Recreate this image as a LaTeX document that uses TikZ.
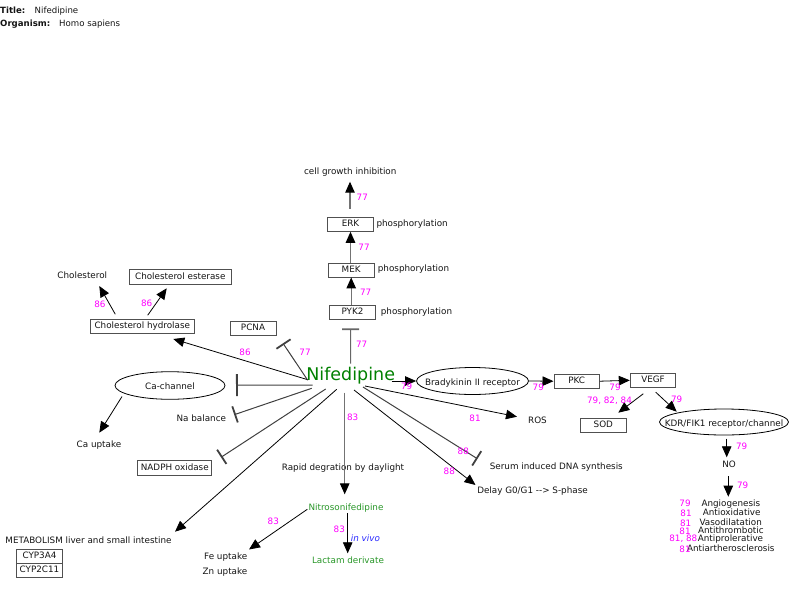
\documentclass[tikz,border=0pt]{standalone}
\usepackage{fontspec}
\setmainfont{DejaVu Sans}
\usetikzlibrary{arrows.meta,shapes.geometric,calc}
\definecolor{mag}{RGB}{255,0,255}
\definecolor{nifgreen}{RGB}{0,128,0}
\definecolor{lgreen}{RGB}{40,150,40}
\definecolor{vivo}{RGB}{40,40,255}
\definecolor{boxline}{RGB}{80,80,80}
\definecolor{txt}{RGB}{20,20,20}
\begin{document}
\begin{tikzpicture}[x=1pt,y=-1pt,
  every node/.style={font=\fontsize{8.8}{10.5}\selectfont, text=txt, inner sep=0pt, text height=9.5pt, text depth=1pt},
  box/.style={draw=boxline, line width=0.9pt, minimum height=14pt, minimum width=45.5pt, inner xsep=3pt, text height=6.5pt, text depth=2pt},
  oval/.style={draw=black, ellipse, line width=0.8pt},
  lbl/.style={text=mag},
  act/.style={draw=black, line width=0.8pt, -{Triangle[length=11pt,width=9.5pt]}},
  gact/.style={draw=black!55, line width=1.1pt, -{Triangle[length=11pt,width=9.5pt,color=black]}},
  inh/.style={draw=black!75, line width=1pt, -{Bar[width=17pt,line width=1.8pt]}},
  ttl/.style={font=\fontsize{8.6}{10}\selectfont, anchor=west}
]
\useasboundingbox (0,0) rectangle (800,592);

% title
\node[ttl] (t1) at (0,9.3) {\textbf{Title:}};
\node[ttl] (t2) at (34.5,9.3) {Nifedipine};
\node[ttl] (o1) at (0,22) {\textbf{Organism:}};
\node[ttl] (o2) at (59,22) {Homo sapiens};

% central
\node[font=\fontsize{17.5}{20}\selectfont, text=nifgreen, text height=12.8pt, text depth=3.7pt, anchor=base] (nif) at (350.7,380.7) {Nifedipine};

% vertical chain
\node (cgi) at (350.3,170) {cell growth inhibition};
\node[box] (erk) at (350.5,224.3) {ERK};
\node[anchor=west] (ph1) at (376.3,222.7) {phosphorylation};
\node[box] (mek) at (351.2,270) {MEK};
\node[anchor=west] (ph2) at (377.7,267.3) {phosphorylation};
\node[box] (pyk2) at (352.5,312.2) {PYK2};
\node[anchor=west] (ph3) at (380.7,310) {phosphorylation};

\coordinate (cgiTip) at (350,181.7);
\coordinate (pykT) at (350.5,328.3);
\draw[gact] ($(erk.north)+(-0.5,-8)$) -- (cgiTip);
\draw[gact] (mek.north -| erk.south) -- (erk.south);
\draw[gact] (pyk2.north -| mek.south) -- (mek.south);
\draw[inh, draw=black!60] ($(nif.base)+(0,-17)$) -- (pykT);
\node[lbl] (l1) at (362.3,196.7) {77};
\node[lbl] (l2) at (364,246.7) {77};
\node[lbl] (l3) at (365.7,291) {77};
\node[lbl] (l4) at (361.7,343.3) {77};

% left upper
\node (chol) at (82.3,274) {Cholesterol};
\node[box, minimum width=102.7pt, minimum height=15pt] (cest) at (180.3,276.8) {Cholesterol esterase};
\node[box, minimum width=103.3pt] (chyd) at (142.3,326.7) {Cholesterol hydrolase};
\node[box, minimum width=46pt, minimum height=14.7pt] (pcna) at (253,328.3) {PCNA};
\coordinate (cholTip) at (99.3,286);
\coordinate (cestTip) at (166.7,288.3);
\coordinate (chydTip) at (173.3,339);
\coordinate (pcnaT) at (283,343.3);
\draw[act] ($(chyd.north)+(-27,-5)$) -- (cholTip);
\draw[act] ($(chyd.north)+(5.4,-4)$) -- (cestTip);
\draw[act] ($(nif.base)+(-43,-1)$) -- (chydTip);
\draw[inh] ($(nif.base)+(-43,-0.5)$) -- (pcnaT);
\node[lbl] (l5) at (100,303.3) {86};
\node[lbl] (l6) at (146.7,302.3) {86};
\node[lbl] (l7) at (245,351.7) {86};
\node[lbl] (l8) at (305,351.7) {77};

% left middle
\node[oval, minimum width=110pt, minimum height=27.6pt] (cach) at (170,385.5) {};
\node (cachtext) at (cach) {Ca-channel};
\node (caup) at (99,443.3) {Ca uptake};
\node (nabal) at (201.3,417.3) {Na balance};
\node[box, minimum height=15pt] (nadph) at (174.8,468.3) {NADPH oxidase};
\coordinate (cachT) at (236,385.2);
\coordinate (caupTip) at (99.3,432.7);
\coordinate (nabT) at (234.2,414.7);
\coordinate (nadT) at (221,457.3);
\draw[inh, -{Bar[width=22pt,line width=1.8pt]}] ($(nif.base)+(-38,4.3)$) -- (cachT);
\draw[act] ($(cach)+(-48,11)$) -- (caupTip);
\draw[inh] ($(nif.base)+(-39,7.6)$) -- (nabT);
\draw[inh] ($(nif.base)+(-25,8.3)$) -- (nadT);

% bottom left
\node (metab) at (88.5,539.3) {METABOLISM liver and small intestine};
\node[box] (cyp3) at (39.5,556.3) {CYP3A4};
\node[box] (cyp2) at (39.5,570.3) {CYP2C11};
\coordinate (metTip) at (175,531.7);
\draw[act] ($(nif.base)+(-14,8.6)$) -- (metTip);

% bottom middle
\node (rapid) at (343,466) {Rapid degration by daylight};
\node[text=lgreen] (nitro) at (346,506) {Nitrosonifedipine};
\node (fe) at (225.7,555) {Fe uptake};
\node (zn) at (225,570.7) {Zn uptake};
\node[text=lgreen] (lactam) at (348,559) {Lactam derivate};
\node[anchor=west, text=vivo, font=\fontsize{8.8}{10.5}\selectfont\itshape] (invivo) at (350.7,537.3) {in vivo};
\coordinate (rapidTip) at (344.7,494.3);
\coordinate (feTip) at (249,549.5);
\coordinate (lacTip) at (347.7,553.3);
\coordinate (nitroOut) at (307.3,509.3);
\coordinate (lacOut) at (347.7,513.3);
\draw[gact] ($(nif.base)+(-6,12)$) -- (rapidTip);
\draw[act] (nitroOut) -- (feTip);
\draw[act] (lacOut) -- (lacTip);
\node[lbl] (l9) at (352.7,416) {83};
\node[lbl] (l10) at (273.3,520.7) {83};
\node[lbl] (l11) at (339.3,528.3) {83};

% right
\node[oval, minimum width=112pt, minimum height=27pt] (brady) at (472.5,381) {};
\node (bradytext) at (brady) {Bradykinin II receptor};
\node[box] (pkc) at (576.7,381.2) {PKC};
\node[box] (vegf) at (653,380.3) {VEGF};
\node[box, minimum width=46.7pt] (sod) at (603.3,425.3) {SOD};
\node[oval, minimum width=129pt, minimum height=26pt] (kdr) at (724,422) {};
\node (kdrtext) at (kdr) {KDR/FIK1 receptor/channel};
\node (no) at (729,463.3) {NO};
\node (ros) at (537.5,419.3) {ROS};
\node (serum) at (556.3,465.3) {Serum induced DNA synthesis};
\node (delay) at (532.5,489.3) {Delay G0/G1 -{}-> S-phase};

\coordinate (sodTip) at (618.3,412.7);
\coordinate (kdrTip) at (676.7,411.7);
\coordinate (noTip) at (726.7,457.3);
\coordinate (listTip) at (728.3,496.7);
\coordinate (rosTip) at (517,416.7);
\coordinate (serT) at (477.5,458.8);
\coordinate (delTip) at (475.5,485);

\draw[act] ($(nif.base)+(41,0.3)$) -- (brady.west);
\draw[act] (brady.east) -- (pkc.west);
\draw[act] (pkc.east) -- (vegf.west);
\draw[act] ($(vegf.south)+(-9.7,6)$) -- (sodTip);
\draw[act] ($(vegf.south)+(2.7,4.4)$) -- (kdrTip);
\draw[act] ($(kdr.south)+(2.7,3.3)$) -- (noTip);
\draw[act] ($(no)+(-0.7,12.7)$) -- (listTip);
\draw[act] ($(nif.base)+(14.3,5.3)$) -- (rosTip);
\draw[inh] ($(nif.base)+(12.3,6.3)$) -- (serT);
\draw[act] ($(nif.base)+(3.3,9.3)$) -- (delTip);

\node[lbl] (l12) at (406.7,385) {79};
\node[lbl] (l13) at (538.3,386) {79};
\node[lbl] (l14) at (615,386) {79};
\node[lbl] (l15) at (609.5,399) {79, 82, 84};
\node[lbl] (l16) at (676.7,398.3) {79};
\node[lbl] (l17) at (741.7,445.7) {79};
\node[lbl] (l18) at (742.7,484) {79};
\node[lbl] (l19) at (475,417.3) {81};
\node[lbl] (l20) at (463.3,450.7) {88};
\node[lbl] (l21) at (449.3,470) {88};

% outcome list
\node (e1) at (730.8,502.7) {Angiogenesis};
\node (e2) at (731.7,511.7) {Antioxidative};
\node (e3) at (730.7,521) {Vasodilatation};
\node (e4) at (730.8,529.3) {Antithrombotic};
\node (e5) at (730.5,537.3) {Antiprolerative};
\node (e6) at (730.8,547.3) {Antiartherosclerosis};
\node[lbl] (m1) at (685,502.7) {79};
\node[lbl] (m2) at (686,512) {81};
\node[lbl] (m3) at (685.7,522) {81};
\node[lbl] (m4) at (685,530.7) {81};
\node[lbl] (m5) at (683.3,537.3) {81, 88};
\node[lbl] (m6) at (685,548.7) {81};
\end{tikzpicture}
\end{document}
